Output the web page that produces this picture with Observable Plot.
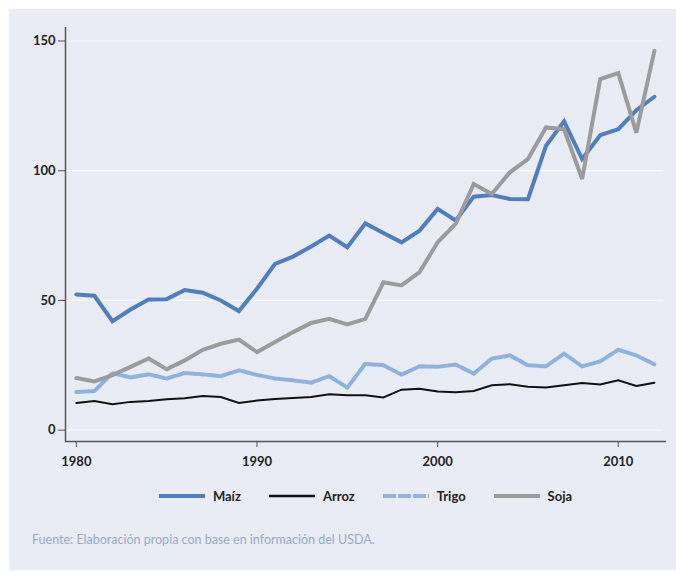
<!DOCTYPE html>
<html>
<head>
<meta charset="utf-8">
<script src="https://cdn.jsdelivr.net/npm/d3@7"></script>
<script src="https://cdn.jsdelivr.net/npm/@observablehq/plot@0.6"></script>
<style>
  html, body { margin:0; padding:0; background:#ffffff; width:676px; height:572px; overflow:hidden; font-family: Lato, "Open Sans", sans-serif; }
  #panel { position:absolute; left:9px; top:9px; width:667px; height:561px; background:#e9ecf5; }
  #chart { position:absolute; left:0; top:0; }
  #legend { position:absolute; left:65px; width:601px; top:488px; height:16px; display:flex; justify-content:center; align-items:center; font-size:13px; font-weight:bold; color:#222; }
  .item { display:flex; align-items:center; margin-right:28px; }
  .item:last-child { margin-right:0; }
  .item svg { margin-right:8px; }
  #source { position:absolute; left:32px; top:532px; font-size:12.5px; color:#98aacd; }
</style>
</head>
<body>
<div id="panel"></div>
<div id="chart"></div>
<div id="legend"></div>
<div id="source"></div>
<script>
const years = [1980,1981,1982,1983,1984,1985,1986,1987,1988,1989,1990,1991,1992,1993,1994,1995,1996,1997,1998,1999,2000,2001,2002,2003,2004,2005,2006,2007,2008,2009,2010,2011,2012];
const maiz  = [52.3,51.8,42,46.5,50.4,50.5,54,53,50,45.9,54.5,64.1,66.9,70.8,75,70.5,79.7,76,72.4,76.9,85.3,80.8,90,90.6,89.1,89,109.6,119,104.5,113.7,116,123.3,128.5];
const arroz = [10.5,11.2,10,10.9,11.2,11.9,12.3,13.2,12.8,10.5,11.4,12,12.4,12.8,13.8,13.5,13.5,12.6,15.6,16,14.9,14.6,15.1,17.3,17.7,16.7,16.4,17.3,18.2,17.6,19.2,17,18.3];
const trigo = [14.7,15.1,22,20.3,21.5,19.9,22,21.5,20.8,23.1,21.3,19.9,19.2,18.3,20.8,16.4,25.6,25,21.4,24.6,24.4,25.3,21.8,27.6,28.8,25,24.6,29.5,24.6,26.5,31,28.8,25.4];
const soja  = [20.1,18.8,21.2,24.4,27.6,23.5,26.9,31,33.3,34.9,30.1,34,37.8,41.3,42.9,40.8,42.9,57,55.8,60.9,72.4,79.5,94.9,91,99.4,104.5,116.7,116,96.8,135.3,137.6,114.7,146.2];
const seriesNames = ["Maíz","Arroz","Trigo","Soja"];
const yTicks = [0,50,100,150];
const xTicks = [1980,1990,2000,2010];
const source = "Fuente: Elaboración propia con base en información del USDA.";

const seriesValues = {"Maíz": maiz, "Arroz": arroz, "Trigo": trigo, "Soja": soja};
const styles = {
  "Maíz":  {stroke:"#4f7fbf", strokeWidth:4, dash:null},
  "Arroz": {stroke:"#111111", strokeWidth:2, dash:null},
  "Trigo": {stroke:"#8fb3e0", strokeWidth:4, dash:"9,2"},
  "Soja":  {stroke:"#9c9c9c", strokeWidth:4, dash:null}
};
const rows = name => years.map((y,i) => ({year:y, value:seriesValues[name][i]}));

const xMin = 1979.4, xMax = 2012.67, yMin = -4.37, yMax = 155.2;

const lineMarks = seriesNames.map(name => Plot.line(rows(name), {
  x:"year", y:"value", stroke: styles[name].stroke, strokeWidth: styles[name].strokeWidth,
  strokeDasharray: styles[name].dash || undefined, strokeLinejoin:"miter", strokeMiterlimit: 2
}));

const chart = Plot.plot({
  width: 676,
  height: 470,
  marginLeft: 65,
  marginRight: 10,
  marginTop: 27,
  marginBottom: 29,
  style: {background:"transparent", fontFamily:"Lato, 'Open Sans', sans-serif", fontSize:"13px", color:"#222", fontWeight:"bold"},
  x: {domain:[xMin, xMax]},
  y: {domain:[yMin, yMax]},
  marks: [
    Plot.ruleY(yTicks, {stroke:"#f6f8fc", strokeWidth:1.2, x1: xMin, x2: 2012.5}),
    ...lineMarks,
    Plot.ruleX([xMin], {stroke:"#555", strokeWidth:1.5}),
    Plot.ruleY([yMin], {stroke:"#555", strokeWidth:1.5}),
    Plot.axisY({ticks: yTicks, tickSize:7, tickPadding:3, stroke:"#555", label:null, tickFormat: d => String(d)}),
    Plot.axisX({ticks: xTicks, tickSize:6, tickPadding:9, stroke:"#555", label:null, tickFormat: d => String(d)})
  ]
});
document.getElementById("chart").appendChild(chart);

const legend = document.getElementById("legend");
seriesNames.forEach(name => {
  const st = styles[name];
  const item = document.createElement("div");
  item.className = "item";
  item.innerHTML = `<svg width="46" height="8"><line x1="0" x2="46" y1="4" y2="4" stroke="${st.stroke}" stroke-width="${st.strokeWidth === 4 ? 4 : 2.5}" ${st.dash ? `stroke-dasharray="13,2"` : ""}/></svg><span>${name}</span>`;
  legend.appendChild(item);
});
document.getElementById("source").textContent = source;
</script>
</body>
</html>
